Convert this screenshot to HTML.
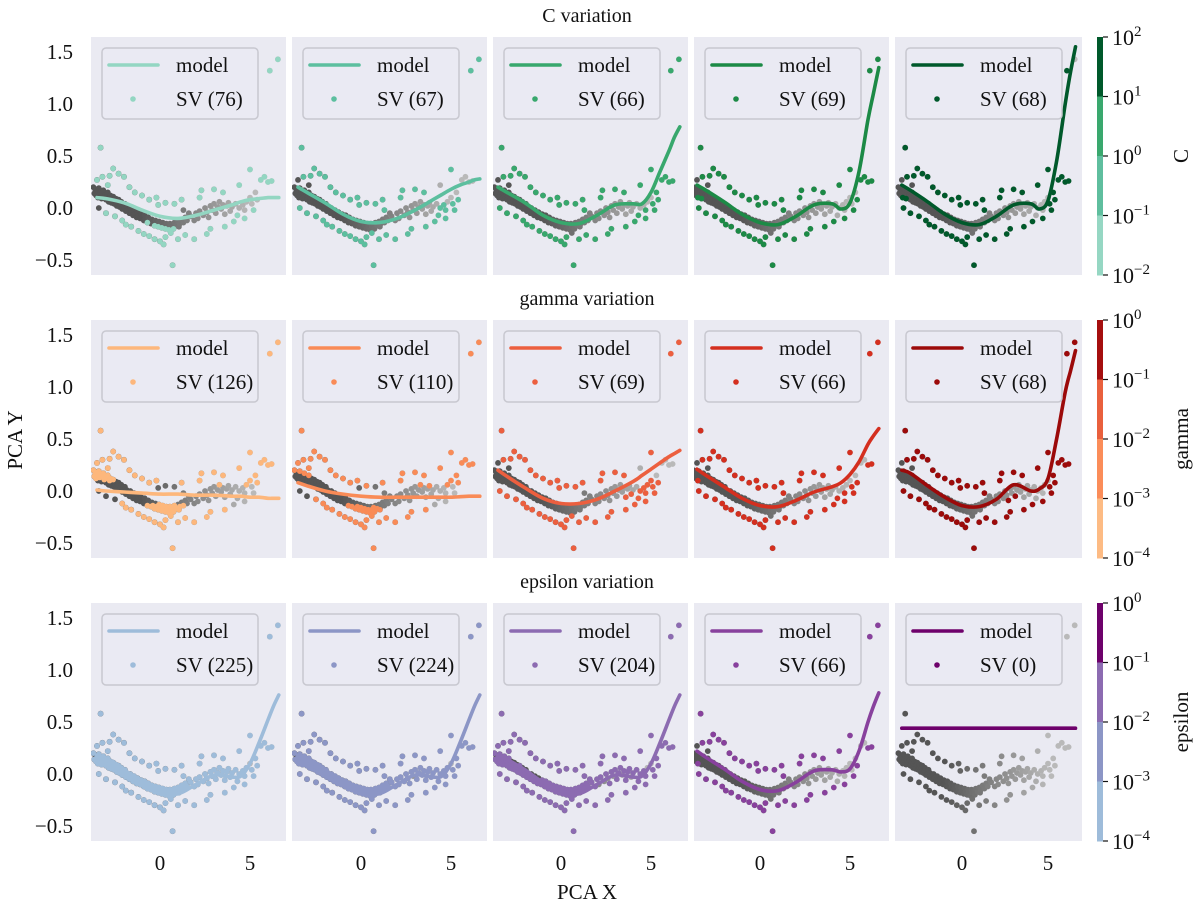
<!DOCTYPE html>
<html><head><meta charset="utf-8"><style>
body{margin:0;background:#fff;}
svg{display:block;font-family:"Liberation Serif","DejaVu Serif",serif;}
text{font-family:"Liberation Serif","DejaVu Serif",serif;}
</style></head><body>
<svg id="c" width="1200" height="911" xmlns="http://www.w3.org/2000/svg"></svg>
<script>
const dataX=[-3.7,-3.65,-3.6,-3.55,-3.5,-3.45,-3.4,-3.35,-3.3,-3.25,-3.2,-3.15,-3.1,-3.05,-3.0,-2.95,-2.9,-2.85,-2.8,-2.75,-2.7,-2.65,-2.6,-2.55,-2.5,-2.45,-2.4,-2.35,-2.3,-2.25,-2.2,-2.15,-2.1,-2.05,-2.0,-1.95,-1.9,-1.85,-1.8,-1.7,-1.65,-1.6,-1.5,-1.45,-1.4,-1.3,-1.25,-1.2,-1.1,-1.05,-1.0,-0.9,-0.85,-0.8,-0.7,-0.65,-0.6,-0.5,-0.45,-0.4,-0.3,-0.25,-0.2,-0.1,-0.05,0.0,0.1,0.15,0.2,0.3,0.35,0.4,0.5,0.55,0.6,0.7,0.75,0.8,0.9,1.0,1.05,1.1,1.2,1.3,1.4,1.5,
1.7,1.9,2.0,2.1,2.2,2.4,2.5,2.6,2.7,2.8,2.9,3.0,3.1,3.2,3.3,3.4,3.5,3.6,3.7,3.8,3.9,4.0,4.2,4.3,4.4,4.6,4.7,4.8,5.0,5.1,5.3,5.4,5.6,5.8,6.0,6.2,6.1,6.55,
-3.3,-3.5,-3.2,-2.8,-2.6,-2.3,-2.0,-2.9,-1.7,-1.4,-1.0,-0.6,-0.2,0.3,0.8,1.3,1.6,-3.4,-3.0,-2.5,-2.1,-1.6,-1.2,-0.9,-0.6,-0.3,0.0,0.3,0.6,1.0,1.4,1.9,0.7,2.3,3.0,3.5,4.4,5.0,5.2,2.8,3.6,4.1,4.7,2.2,1.2,-1.9,0.2,-0.1,2.6];
const dataY=[0.20,0.14,0.18,0.12,0.16,0.10,0.19,0.13,0.15,0.09,0.14,0.17,0.11,0.13,0.08,0.12,0.15,0.06,0.10,0.12,0.05,0.09,0.11,0.04,0.07,0.09,0.02,0.06,0.08,0.01,0.04,0.06,-0.01,0.03,0.0,0.04,-0.03,0.01,-0.02,-0.05,0.0,-0.04,-0.07,-0.02,-0.06,-0.09,-0.04,-0.08,-0.10,-0.06,-0.09,-0.12,-0.07,-0.11,-0.14,-0.09,-0.12,-0.15,-0.11,-0.14,-0.17,-0.12,-0.15,-0.18,-0.13,-0.16,-0.19,-0.14,-0.17,-0.20,-0.15,-0.18,-0.21,-0.15,-0.18,-0.16,-0.20,-0.14,-0.17,-0.13,-0.18,-0.15,-0.11,-0.14,-0.09,-0.12,
-0.08,-0.12,-0.05,-0.10,-0.03,-0.07,0.0,-0.04,-0.09,0.02,-0.02,0.04,-0.05,0.01,0.06,-0.01,0.03,-0.06,0.02,0.05,-0.03,0.01,0.04,-0.07,0.0,0.03,-0.02,0.06,0.10,0.04,0.15,0.08,0.27,0.30,0.25,0.26,1.32,1.43,
0.58,0.27,0.30,0.31,0.38,0.33,0.30,0.22,0.20,0.15,0.12,0.08,0.10,0.05,0.04,-0.02,-0.05,0.0,-0.05,-0.08,-0.12,-0.18,-0.22,-0.25,-0.27,-0.30,-0.32,-0.28,-0.24,-0.30,-0.26,-0.30,-0.55,0.17,0.18,0.15,0.22,0.37,-0.02,-0.20,-0.18,-0.13,-0.10,0.10,0.08,-0.16,-0.35,0.03,-0.25];
const gridX=[-3.5,-3,-2,-1,0,1,2,3,4,4.5,5,5.5,6,6.3,6.6];
const cModel1=[0.10,0.09,0.05,-0.02,-0.08,-0.10,-0.07,-0.02,0.03,0.06,0.08,0.09,0.10,0.10,0.10];
const cModel2=[0.20,0.15,0.05,-0.06,-0.13,-0.14,-0.10,-0.02,0.08,0.13,0.18,0.22,0.25,0.27,0.28];
const cModel3=[0.20,0.15,0.05,-0.07,-0.14,-0.15,-0.07,0.03,0.04,0.04,0.15,0.35,0.55,0.68,0.78];
const cModel4=[0.22,0.17,0.06,-0.06,-0.14,-0.16,-0.08,0.03,0.04,-0.01,0.05,0.35,0.85,1.10,1.35];
const cModel5=[0.22,0.17,0.06,-0.06,-0.14,-0.16,-0.08,0.03,0.04,-0.01,0.07,0.45,1.00,1.30,1.55];
const gModel1=[0.01,0.0,-0.01,-0.02,-0.03,-0.03,-0.04,-0.04,-0.05,-0.05,-0.06,-0.06,-0.07,-0.07,-0.07];
const gModel2=[0.08,0.05,0.0,-0.03,-0.05,-0.06,-0.06,-0.06,-0.06,-0.06,-0.06,-0.055,-0.05,-0.05,-0.05];
const gModel3=[0.20,0.14,0.03,-0.07,-0.12,-0.12,-0.08,0.0,0.09,0.15,0.21,0.27,0.33,0.36,0.39];
const gModel4=[0.21,0.15,0.04,-0.07,-0.14,-0.15,-0.09,-0.01,0.04,0.08,0.16,0.28,0.45,0.53,0.60];
const gModel5=[0.20,0.17,0.05,-0.06,-0.14,-0.15,-0.08,0.06,0.0,0.02,0.12,0.50,0.95,1.15,1.35];
const eModel1=[0.18,0.14,0.04,-0.08,-0.16,-0.19,-0.10,-0.01,-0.03,-0.02,0.10,0.30,0.52,0.65,0.76];
const eModel2=[0.18,0.14,0.04,-0.08,-0.16,-0.19,-0.10,-0.01,-0.03,-0.02,0.10,0.30,0.52,0.65,0.76];
const eModel3=[0.18,0.14,0.04,-0.08,-0.16,-0.19,-0.10,-0.01,-0.03,-0.02,0.10,0.30,0.52,0.65,0.76];
const eModel4=[0.22,0.16,0.05,-0.07,-0.15,-0.16,-0.08,0.03,0.04,0.02,0.05,0.22,0.50,0.65,0.78];
const eModel5=[0.44,0.44,0.44,0.44,0.44,0.44,0.44,0.44,0.44,0.44,0.44,0.44,0.44,0.44,0.44];
const svCounts=[["76","67","66","69","68"],["126","110","69","66","68"],["225","224","204","66","0"]];
const epsVals=[[0.1,0.1,0.1,0.1,0.1],[0.1,0.1,0.1,0.1,0.1],[0.0001,0.001,0.01,0.1,1.0]];
const yTicks=[-0.5,0.0,0.5,1.0,1.5];
const yTickLabels=["\u22120.5","0.0","0.5","1.0","1.5"];
const xTicks=[0,5];
const rowTitles=["C variation","gamma variation","epsilon variation"];
const cbarNames=["C","gamma","epsilon"];
const cbarExp=[["2","1","0","\u22121","\u22122"],["0","\u22121","\u22122","\u22123","\u22124"],["0","\u22121","\u22122","\u22123","\u22124"]];

const models=[[cModel1,cModel2,cModel3,cModel4,cModel5],[gModel1,gModel2,gModel3,gModel4,gModel5],[eModel1,eModel2,eModel3,eModel4,eModel5]];
const colors=[["#93d6c2","#5cbf9f","#38a86d","#1c8a46","#00592b"],
["#fdb77c","#f98b57","#ec5f3f","#d42f1f","#9c0a0a"],
["#9ebcda","#8c96c6","#8c6bb1","#88419d","#6e016b"]];
const cbarCols=[["#00592b","#3aa86e","#5fbe9e","#96d7c3"],["#a50f0f","#e9603d","#fb8d59","#fdbb84"],["#6e016b","#8c6bb1","#8c96c6","#9ebcda"]];

const NS="http://www.w3.org/2000/svg";
const FF='"Liberation Serif","DejaVu Serif",serif';
const svg=document.getElementById('c');
function el(t,a,p){const e=document.createElementNS(NS,t);for(const k in a)e.setAttribute(k,a[k]);(p||svg).appendChild(e);return e;}
function txt(s,a,p){a['font-family']=FF;const e=el('text',a,p);e.textContent=s;return e;}
function interp(xs,ys,x){if(x<=xs[0])return ys[0];for(let i=1;i<xs.length;i++){if(x<=xs[i]){const t=(x-xs[i-1])/(xs[i]-xs[i-1]);return ys[i-1]+t*(ys[i]-ys[i-1]);}}return ys[ys.length-1];}
function smoothPath(pts){let d="M"+pts[0][0].toFixed(1)+","+pts[0][1].toFixed(1);
for(let i=0;i<pts.length-1;i++){const p0=pts[Math.max(0,i-1)],p1=pts[i],p2=pts[i+1],p3=pts[Math.min(pts.length-1,i+2)];
const c1=[p1[0]+(p2[0]-p0[0])/6,p1[1]+(p2[1]-p0[1])/6],c2=[p2[0]-(p3[0]-p1[0])/6,p2[1]-(p3[1]-p1[1])/6];
d+=" C"+c1[0].toFixed(1)+","+c1[1].toFixed(1)+" "+c2[0].toFixed(1)+","+c2[1].toFixed(1)+" "+p2[0].toFixed(1)+","+p2[1].toFixed(1);}return d;}
function grayFor(x){const t=Math.max(0,Math.min(1,(x+1)/6));const v=Math.round(85+t*100);return "rgb("+v+","+v+","+v+")";}

const rowTops=[37,320,603], ph=238;
const lefts=[91,292,493,694,895], widths=[195,195,195,195,187];
const x0off=[69,69,68,66,67], xsc=[18,18,18,18,17.2];
const ysc=104, y0off=171;

for(let r=0;r<3;r++){
  const top=rowTops[r];
  const t=txt(rowTitles[r],{x:587,y:top-15,'font-size':20,'text-anchor':'middle',fill:'#111'});
  
  
  for(let c=0;c<5;c++){
    const L=lefts[c],W=widths[c];
    const X=v=>L+x0off[c]+v*xsc[c], Y=v=>top+y0off-v*ysc;
    const g=el('g',{});
    
    
    el('rect',{x:L,y:top,width:W,height:ph,fill:'#eaeaf2'},g);
    const clip='cp'+r+c;
    const cp=el('clipPath',{id:clip},g);el('rect',{x:L,y:top,width:W,height:ph},cp);
    const body=el('g',{'clip-path':'url(#'+clip+')'},g);
    const mdl=models[r][c];
    for(let i=0;i<dataX.length;i++){
      const d=el('circle',{cx:X(dataX[i]).toFixed(1),cy:Y(dataY[i]).toFixed(1),r:2.9,fill:grayFor(dataX[i])},body);
      
      
    }
    for(let i=0;i<dataX.length;i++){
      if(Math.abs(dataY[i]-interp(gridX,mdl,dataX[i]))>epsVals[r][c]){
        const d=el('circle',{cx:X(dataX[i]).toFixed(1),cy:Y(dataY[i]).toFixed(1),r:2.8,fill:colors[r][c]},body);
        
        
      }
    }
    const pts=gridX.map((x,i)=>[X(x),Y(mdl[i])]);
    const ln=el('path',{d:smoothPath(pts),fill:'none',stroke:colors[r][c],'stroke-width':3.6,'stroke-linecap':'round'},body);
    
    
    const lg=el('g',{},g);
    
    
    el('rect',{x:L+11,y:top+11,width:156,height:71,rx:4,fill:'#eaeaf2','fill-opacity':0.8,stroke:'#c8c8d0','stroke-width':1.5},lg);
    el('line',{x1:L+18,y1:top+28,x2:L+67,y2:top+28,stroke:colors[r][c],'stroke-width':3.6,'stroke-linecap':'round'},lg);
    txt('model',{x:L+85,y:top+35,'font-size':21,fill:'#111'},lg);
    el('circle',{cx:L+42,cy:top+62,r:2.8,fill:colors[r][c]},lg);
    txt('SV ('+svCounts[r][c]+')',{x:L+85,y:top+69,'font-size':21,fill:'#111'},lg);
    if(c===0){
      yTicks.forEach((v,i)=>{const tk=txt(yTickLabels[i],{x:L-18,y:Y(v)+7,'font-size':21,'text-anchor':'end',fill:'#111'});
        
        });
    }
    if(r===2){
      xTicks.forEach(v=>{const tk=txt(String(v),{x:X(v),y:top+ph+29,'font-size':21,'text-anchor':'middle',fill:'#111'});
        
        });
    }
  }
  const cb=el('g',{});
  
  
  const bh=ph/4;
  for(let k=0;k<4;k++) el('rect',{x:1097,y:top+k*bh,width:6,height:bh+0.5,fill:cbarCols[r][k]},cb);
  for(let k=0;k<5;k++){
    const yy=top+k*bh;
    el('line',{x1:1103,y1:yy,x2:1108,y2:yy,stroke:'#111','stroke-width':1.2},cb);
    const tt=txt('10',{x:1112,y:yy+8,'font-size':22,fill:'#111'},cb);
    const sp=el('tspan',{dy:-9,'font-size':15},tt);sp.textContent=cbarExp[r][k];
  }
  const lab=txt(cbarNames[r],{x:0,y:0,'font-size':21,'text-anchor':'middle',fill:'#111',transform:'translate(1188,'+(top+ph/2)+') rotate(-90)'},cb);
  
  
}
const ya=txt('PCA Y',{x:0,y:0,'font-size':21,'text-anchor':'middle',fill:'#111',transform:'translate(22,440) rotate(-90)'});


const xa=txt('PCA X',{x:587,y:899,'font-size':21,'text-anchor':'middle',fill:'#111'});


</script>
</body></html>
